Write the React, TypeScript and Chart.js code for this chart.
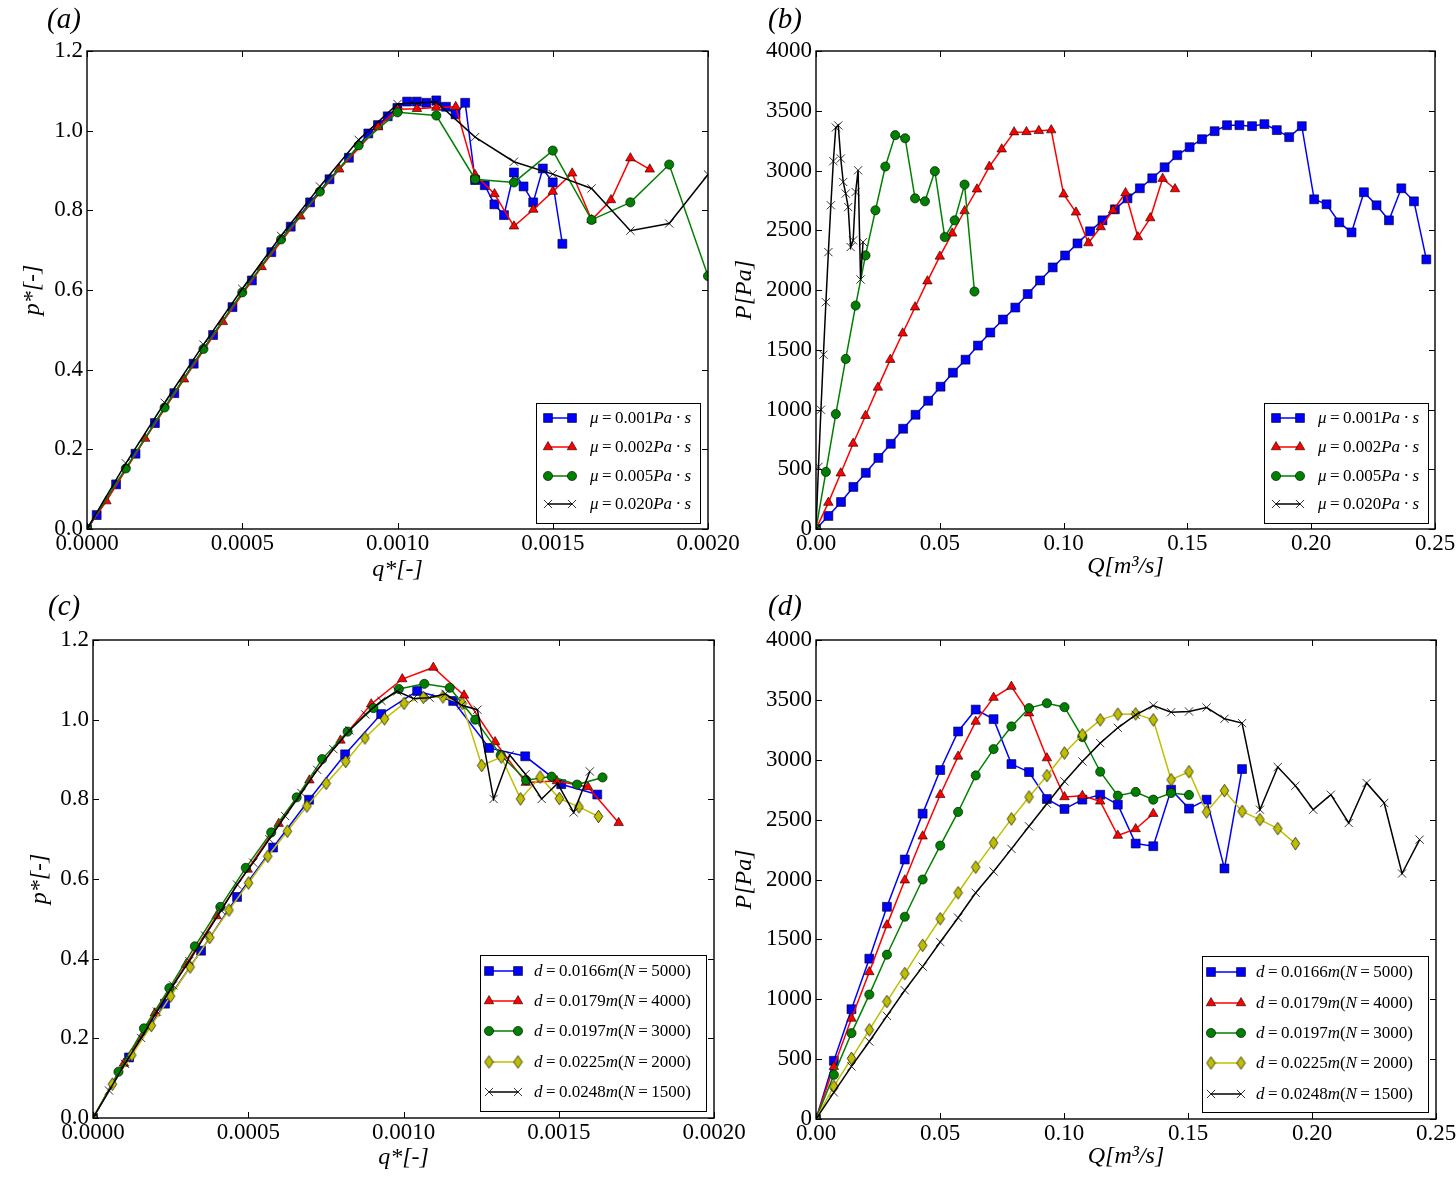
import React, { useEffect, useRef } from 'react';
import { Chart, registerables } from 'chart.js';
import { drawPoint } from 'chart.js/helpers';

Chart.register(...registerables);

const SERIF = "'Liberation Serif', 'Times New Roman', serif";

// ---------- (a) normalised pressure p* vs normalised flow q*, by viscosity ----------
const aQ_mu001 = [0, 0.0000312, 0.0000937, 0.0001562, 0.0002187, 0.0002812, 0.0003436, 0.0004061, 0.0004686, 0.0005311, 0.0005936, 0.0006561, 0.0007185, 0.000781, 0.0008435, 0.000906, 0.0009372, 0.0009685, 0.0009997, 0.001031, 0.001062, 0.001093, 0.001125, 0.001156, 0.001187, 0.001218, 0.00125, 0.001281, 0.001312, 0.001343, 0.001375, 0.001406, 0.001437, 0.001468, 0.0015, 0.001531];
const aP_mu001 = [0, 0.035, 0.112, 0.189, 0.266, 0.341, 0.415, 0.487, 0.557, 0.624, 0.695, 0.759, 0.82, 0.878, 0.932, 0.993, 1.014, 1.036, 1.057, 1.073, 1.073, 1.07, 1.076, 1.06, 1.041, 1.07, 0.876, 0.863, 0.815, 0.788, 0.895, 0.86, 0.82, 0.905, 0.87, 0.716];
const aQ_mu002 = [0, 0.0000625, 0.0001875, 0.0003125, 0.0004375, 0.0005625, 0.0006875, 0.0008125, 0.0009375, 0.001, 0.0010625, 0.001125, 0.0011875, 0.00125, 0.0013125, 0.001375, 0.0014375, 0.0015, 0.0015625, 0.001625, 0.0016875, 0.00175, 0.0018125];
const aP_mu002 = [0, 0.07, 0.227, 0.376, 0.52, 0.658, 0.785, 0.903, 1.009, 1.054, 1.055, 1.058, 1.06, 0.889, 0.841, 0.76, 0.802, 0.847, 0.893, 0.776, 0.826, 0.931, 0.903];
const aQ_mu005 = [0, 0.000125, 0.00025, 0.000375, 0.0005, 0.000625, 0.00075, 0.000875, 0.001, 0.001125, 0.00125, 0.001375, 0.0015, 0.001625, 0.00175, 0.001875, 0.002];
const aP_mu005 = [0, 0.152, 0.305, 0.452, 0.594, 0.727, 0.847, 0.963, 1.046, 1.038, 0.878, 0.87, 0.95, 0.776, 0.82, 0.915, 0.635];
const aQ_mu020 = [0, 0.000125, 0.00025, 0.000375, 0.0005, 0.000625, 0.00075, 0.000875, 0.001, 0.001125, 0.00125, 0.001375, 0.0015, 0.001625, 0.00175, 0.001875, 0.002];
const aP_mu020 = [0, 0.165, 0.317, 0.463, 0.603, 0.736, 0.86, 0.977, 1.067, 1.072, 0.984, 0.922, 0.891, 0.855, 0.749, 0.767, 0.89];

// ---------- (b) pressure P [Pa] vs flow rate Q [m3/s], by viscosity ----------
const bQ_mu001 = [0, 0.005, 0.0101, 0.0151, 0.0201, 0.0252, 0.0302, 0.0352, 0.0402, 0.0453, 0.0503, 0.0553, 0.0604, 0.0654, 0.0704, 0.0755, 0.0805, 0.0855, 0.0905, 0.0956, 0.1006, 0.1056, 0.1107, 0.1157, 0.1207, 0.1258, 0.1308, 0.1358, 0.1408, 0.1459, 0.1509, 0.1559, 0.161, 0.166, 0.171, 0.1761, 0.1811, 0.1861, 0.1911, 0.1962, 0.2012, 0.2062, 0.2113, 0.2163, 0.2213, 0.2264, 0.2314, 0.2364, 0.2415, 0.2465];
const bP_mu001 = [0, 109, 226, 352, 470, 595, 713, 839, 956, 1073, 1191, 1308, 1417, 1535, 1644, 1753, 1853, 1966, 2080, 2189, 2289, 2390, 2491, 2583, 2675, 2767, 2851, 2935, 3027, 3128, 3195, 3262, 3329, 3379, 3379, 3371, 3388, 3338, 3279, 3371, 2759, 2717, 2566, 2482, 2818, 2709, 2583, 2851, 2742, 2256];
const bQ_mu002 = [0, 0.005, 0.01, 0.015, 0.02, 0.025, 0.03, 0.035, 0.04, 0.045, 0.05, 0.055, 0.06, 0.065, 0.07, 0.075, 0.08, 0.085, 0.09, 0.095, 0.1, 0.105, 0.11, 0.115, 0.12, 0.125, 0.13, 0.135, 0.14, 0.145];
const bP_mu002 = [0, 221, 467, 715, 948, 1185, 1417, 1638, 1856, 2074, 2281, 2474, 2661, 2843, 3033, 3178, 3321, 3323, 3332, 3338, 2801, 2650, 2393, 2527, 2667, 2812, 2443, 2602, 2932, 2845];
const bQ_mu005 = [0, 0.004, 0.008, 0.012, 0.016, 0.02, 0.024, 0.028, 0.032, 0.036, 0.04, 0.044, 0.048, 0.052, 0.056, 0.06, 0.064];
const bP_mu005 = [0, 478, 962, 1423, 1870, 2289, 2667, 3033, 3296, 3270, 2767, 2742, 2994, 2443, 2583, 2882, 1987];
const bQ_mu020 = [0, 0.001, 0.002, 0.003, 0.004, 0.005, 0.006, 0.007, 0.008, 0.009, 0.01, 0.011, 0.012, 0.013, 0.014, 0.015, 0.016, 0.017, 0.018, 0.019];
const bP_mu020 = [0, 520, 998, 1459, 1898, 2317, 2709, 3078, 3360, 3377, 3100, 2904, 2807, 2694, 2359, 2415, 2820, 3002, 2088, 2401];

// ---------- (c) normalised curves, by particle diameter ----------
const cQ_d0166 = [0, 0.000116, 0.000232, 0.000348, 0.000464, 0.00058, 0.000696, 0.000812, 0.000928, 0.001044, 0.00116, 0.001276, 0.001392, 0.001508, 0.001624];
const cP_d0166 = [0, 0.152, 0.287, 0.42, 0.555, 0.679, 0.799, 0.913, 1.014, 1.072, 1.047, 0.929, 0.908, 0.838, 0.812];
const cQ_d0179 = [0, 0.0000996, 0.000199, 0.000299, 0.000398, 0.000498, 0.000598, 0.000697, 0.000797, 0.000896, 0.000996, 0.001096, 0.001195, 0.001295, 0.001394, 0.001494, 0.001594, 0.001693];
const cP_d0179 = [0, 0.137, 0.263, 0.385, 0.507, 0.624, 0.739, 0.848, 0.948, 1.039, 1.102, 1.131, 1.061, 0.944, 0.842, 0.846, 0.831, 0.741];
const cQ_d0197 = [0, 0.000082, 0.000164, 0.000246, 0.000328, 0.00041, 0.000492, 0.000574, 0.000656, 0.000738, 0.00082, 0.000903, 0.000985, 0.001067, 0.001149, 0.001231, 0.001313, 0.001395, 0.001477, 0.001559, 0.001641];
const cP_d0197 = [0, 0.116, 0.225, 0.326, 0.431, 0.53, 0.628, 0.717, 0.805, 0.901, 0.97, 1.029, 1.077, 1.09, 1.08, 1.0, 0.911, 0.848, 0.857, 0.837, 0.855];
const cQ_d0225 = [0, 0.0000626, 0.000125, 0.000188, 0.00025, 0.000313, 0.000376, 0.000438, 0.000501, 0.000563, 0.000626, 0.000689, 0.000751, 0.000814, 0.000876, 0.000939, 0.001002, 0.001064, 0.001127, 0.001189, 0.001252, 0.001315, 0.001377, 0.00144, 0.001502, 0.001565, 0.001628];
const cP_d0225 = [0, 0.085, 0.158, 0.232, 0.306, 0.379, 0.453, 0.522, 0.59, 0.657, 0.72, 0.783, 0.84, 0.895, 0.954, 1.002, 1.041, 1.056, 1.057, 1.041, 0.885, 0.906, 0.801, 0.856, 0.802, 0.781, 0.757];
const cQ_d0248 = [0, 0.0000516, 0.000103, 0.000155, 0.000206, 0.000258, 0.00031, 0.000361, 0.000413, 0.000464, 0.000516, 0.000568, 0.000619, 0.000671, 0.000722, 0.000774, 0.000826, 0.000877, 0.000929, 0.00098, 0.001032, 0.001084, 0.001135, 0.001187, 0.001238, 0.00129, 0.001342, 0.001393, 0.001445, 0.001496, 0.001548, 0.0016];
const cP_d0248 = [0, 0.069, 0.136, 0.201, 0.267, 0.333, 0.394, 0.458, 0.521, 0.586, 0.641, 0.7, 0.758, 0.816, 0.874, 0.926, 0.973, 1.013, 1.047, 1.071, 1.053, 1.055, 1.065, 1.036, 1.025, 0.801, 0.911, 0.863, 0.801, 0.84, 0.767, 0.87];

// ---------- (d) pressure vs flow rate, by particle diameter ----------
const dQ = [0, 0.0072, 0.0143, 0.0215, 0.0286, 0.0358, 0.043, 0.0501, 0.0573, 0.0644, 0.0716, 0.0788, 0.0859, 0.0931, 0.1002, 0.1074, 0.1146, 0.1217, 0.1289, 0.136, 0.1432, 0.1504, 0.1575, 0.1647, 0.1718, 0.179, 0.1862, 0.1933, 0.2005, 0.2076, 0.2148, 0.222, 0.2291, 0.2363, 0.2434];
const dP_d0166 = [0, 486, 917, 1339, 1772, 2167, 2550, 2914, 3236, 3419, 3339, 2964, 2897, 2672, 2589, 2667, 2708, 2625, 2300, 2278, 2750, 2592, 2667, 2092, 2922];
const dP_d0179 = [0, 436, 839, 1228, 1619, 1994, 2361, 2708, 3028, 3319, 3519, 3611, 3389, 3014, 2689, 2700, 2653, 2367, 2422, 2550];
const dP_d0197 = [0, 369, 717, 1039, 1372, 1689, 2000, 2283, 2564, 2869, 3089, 3278, 3431, 3472, 3439, 3190, 2900, 2700, 2731, 2667, 2722, 2706];
const dP_d0225 = [0, 272, 506, 744, 981, 1214, 1450, 1672, 1889, 2103, 2306, 2506, 2689, 2867, 3056, 3208, 3333, 3381, 3383, 3333, 2833, 2900, 2564, 2742, 2569, 2500, 2425, 2300];
const dP_d0248 = [0, 222, 439, 647, 861, 1075, 1272, 1478, 1681, 1889, 2067, 2256, 2444, 2633, 2819, 2986, 3139, 3267, 3375, 3453, 3397, 3403, 3436, 3342, 3306, 2583, 2939, 2783, 2583, 2708, 2472, 2806, 2639, 2050, 2333];

// ---------- legend labels ----------
type Seg = [string, boolean]; // text, italic
const TS = '\u2009'; // thin space used for math-style spacing
const muLabel = (v: string): Seg[] => [['μ', true], [TS + '=' + TS, false], [v, false], ['Pa', true], [TS + '·' + TS, false], ['s', true]];
const dLabel = (d: string, n: string): Seg[] => [['d', true], [TS + '=' + TS, false], [d, false], ['m', true], ['(', false], ['N', true], [TS + '=' + TS, false], [n, false], [')', false]];

const muValues = ['0.001', '0.002', '0.005', '0.020'];
const diameters = ['0.0166', '0.0179', '0.0197', '0.0225', '0.0248'];
const particleCounts = ['5000', '4000', '3000', '2000', '1500'];

// ---------- styling ----------
const BLUE = '#0000ff';
const RED = '#ff0000';
const GREEN = '#008000';
const OLIVE = '#bfbf00';
const BLACK = '#000000';

function makeDiamond(): HTMLCanvasElement {
  const c = document.createElement('canvas');
  c.width = 11;
  c.height = 15;
  const g = c.getContext('2d')!;
  g.beginPath();
  g.moveTo(5.5, 1.2);
  g.lineTo(9.8, 7.5);
  g.lineTo(5.5, 13.8);
  g.lineTo(1.2, 7.5);
  g.closePath();
  g.fillStyle = OLIVE;
  g.fill();
  g.lineWidth = 0.7;
  g.strokeStyle = '#000';
  g.stroke();
  return c;
}

type MarkerKind = 'square' | 'triangle' | 'circle' | 'diamond' | 'cross';
type MarkerDef = { style: any; r: number; bw: number };
let markerCache: Record<MarkerKind, MarkerDef> | null = null;
function markers(): Record<MarkerKind, MarkerDef> {
  if (!markerCache) {
    markerCache = {
      square: { style: 'rect', r: 6.3, bw: 0.6 },
      triangle: { style: 'triangle', r: 5.5, bw: 0.6 },
      circle: { style: 'circle', r: 4.6, bw: 0.6 },
      diamond: { style: makeDiamond(), r: 6, bw: 0.6 },
      cross: { style: 'crossRot', r: 5.8, bw: 0.8 },
    };
  }
  return markerCache;
}

type Series = { label: Seg[]; xs: number[]; ys: number[]; color: string; marker: MarkerKind };
type Rect = { left: number; top: number; right: number; bottom: number };
type Panel = {
  tag: string;
  tagPos: [number, number];
  canvas: { left: number; top: number; width: number; height: number };
  area: Rect;
  x: { min: number; max: number; step: number; digits: number; title: string; titleY: number };
  y: { min: number; max: number; step: number; digits: number; title: string; titleX: number };
  legend: Rect & { rows: number[]; sample: [number, number]; textX: number };
  series: Series[];
};

const PANELS: Panel[] = [
  {
    tag: '(a)',
    tagPos: [47, 20],
    canvas: { left: 0, top: 0, width: 760, height: 590 },
    area: { left: 87, top: 51, right: 708, bottom: 529 },
    x: { min: 0, max: 0.002, step: 0.0005, digits: 4, title: 'q*[-]', titleY: 570 },
    y: { min: 0, max: 1.2, step: 0.2, digits: 1, title: 'p*[-]', titleX: 33 },
    legend: { left: 536, top: 403, right: 700, bottom: 523, rows: [418, 447, 476, 504], sample: [548, 572], textX: 590 },
    series: [
      { label: muLabel(muValues[0]), xs: aQ_mu001, ys: aP_mu001, color: BLUE, marker: 'square' },
      { label: muLabel(muValues[1]), xs: aQ_mu002, ys: aP_mu002, color: RED, marker: 'triangle' },
      { label: muLabel(muValues[2]), xs: aQ_mu005, ys: aP_mu005, color: GREEN, marker: 'circle' },
      { label: muLabel(muValues[3]), xs: aQ_mu020, ys: aP_mu020, color: BLACK, marker: 'cross' },
    ],
  },
  {
    tag: '(b)',
    tagPos: [768, 20],
    canvas: { left: 730, top: 0, width: 726, height: 590 },
    area: { left: 816, top: 51, right: 1435, bottom: 529 },
    x: { min: 0, max: 0.25, step: 0.05, digits: 2, title: 'Q[m³/s]', titleY: 567 },
    y: { min: 0, max: 4000, step: 500, digits: 0, title: 'P[Pa]', titleX: 745 },
    legend: { left: 1264, top: 403, right: 1428, bottom: 523, rows: [418, 447, 476, 504], sample: [1276, 1300], textX: 1318 },
    series: [
      { label: muLabel(muValues[0]), xs: bQ_mu001, ys: bP_mu001, color: BLUE, marker: 'square' },
      { label: muLabel(muValues[1]), xs: bQ_mu002, ys: bP_mu002, color: RED, marker: 'triangle' },
      { label: muLabel(muValues[2]), xs: bQ_mu005, ys: bP_mu005, color: GREEN, marker: 'circle' },
      { label: muLabel(muValues[3]), xs: bQ_mu020, ys: bP_mu020, color: BLACK, marker: 'cross' },
    ],
  },
  {
    tag: '(c)',
    tagPos: [48, 607],
    canvas: { left: 0, top: 590, width: 760, height: 587 },
    area: { left: 93, top: 640, right: 714, bottom: 1118 },
    x: { min: 0, max: 0.002, step: 0.0005, digits: 4, title: 'q*[-]', titleY: 1158 },
    y: { min: 0, max: 1.2, step: 0.2, digits: 1, title: 'p*[-]', titleX: 40 },
    legend: { left: 480, top: 955, right: 706, bottom: 1111, rows: [971, 1001, 1031, 1062, 1092], sample: [489, 518], textX: 534 },
    series: [
      { label: dLabel(diameters[0], particleCounts[0]), xs: cQ_d0166, ys: cP_d0166, color: BLUE, marker: 'square' },
      { label: dLabel(diameters[1], particleCounts[1]), xs: cQ_d0179, ys: cP_d0179, color: RED, marker: 'triangle' },
      { label: dLabel(diameters[2], particleCounts[2]), xs: cQ_d0197, ys: cP_d0197, color: GREEN, marker: 'circle' },
      { label: dLabel(diameters[3], particleCounts[3]), xs: cQ_d0225, ys: cP_d0225, color: OLIVE, marker: 'diamond' },
      { label: dLabel(diameters[4], particleCounts[4]), xs: cQ_d0248, ys: cP_d0248, color: BLACK, marker: 'cross' },
    ],
  },
  {
    tag: '(d)',
    tagPos: [768, 607],
    canvas: { left: 730, top: 590, width: 726, height: 587 },
    area: { left: 816, top: 640, right: 1436, bottom: 1119 },
    x: { min: 0, max: 0.25, step: 0.05, digits: 2, title: 'Q[m³/s]', titleY: 1157 },
    y: { min: 0, max: 4000, step: 500, digits: 0, title: 'P[Pa]', titleX: 745 },
    legend: { left: 1202, top: 956, right: 1428, bottom: 1112, rows: [972, 1003, 1033, 1063, 1094], sample: [1211, 1241], textX: 1256 },
    series: [
      { label: dLabel(diameters[0], particleCounts[0]), xs: dQ, ys: dP_d0166, color: BLUE, marker: 'square' },
      { label: dLabel(diameters[1], particleCounts[1]), xs: dQ, ys: dP_d0179, color: RED, marker: 'triangle' },
      { label: dLabel(diameters[2], particleCounts[2]), xs: dQ, ys: dP_d0197, color: GREEN, marker: 'circle' },
      { label: dLabel(diameters[3], particleCounts[3]), xs: dQ, ys: dP_d0225, color: OLIVE, marker: 'diamond' },
      { label: dLabel(diameters[4], particleCounts[4]), xs: dQ, ys: dP_d0248, color: BLACK, marker: 'cross' },
    ],
  },
];

function drawRich(ctx: CanvasRenderingContext2D, x: number, y: number, segs: Seg[], size: number) {
  let cx = x;
  ctx.textBaseline = 'middle';
  ctx.textAlign = 'left';
  ctx.fillStyle = '#000';
  for (const [t, italic] of segs) {
    ctx.font = `${italic ? 'italic ' : ''}${size}px ${SERIF}`;
    ctx.fillText(t, cx, y);
    cx += ctx.measureText(t).width;
  }
}

function paintMarker(ctx: CanvasRenderingContext2D, s: Series, x: number, y: number) {
  const m = markers()[s.marker];
  ctx.save();
  ctx.fillStyle = s.color;
  ctx.strokeStyle = '#000';
  ctx.lineWidth = m.bw;
  drawPoint(ctx, { pointStyle: m.style, rotation: 0, radius: m.r, borderWidth: m.bw } as any, x, y);
  ctx.restore();
}

// box, inward ticks on all four sides
const framePlugin = {
  id: 'frame',
  afterDatasetsDraw(chart: any) {
    const { ctx, chartArea: a, scales } = chart;
    const tl = 6;
    ctx.save();
    ctx.strokeStyle = '#000';
    ctx.lineWidth = 1;
    ctx.beginPath();
    for (const t of scales.x.ticks) {
      const px = Math.round(scales.x.getPixelForValue(t.value)) + 0.5;
      ctx.moveTo(px, a.bottom);
      ctx.lineTo(px, a.bottom - tl);
      ctx.moveTo(px, a.top);
      ctx.lineTo(px, a.top + tl);
    }
    for (const t of scales.y.ticks) {
      const py = Math.round(scales.y.getPixelForValue(t.value)) + 0.5;
      ctx.moveTo(a.left, py);
      ctx.lineTo(a.left + tl, py);
      ctx.moveTo(a.right, py);
      ctx.lineTo(a.right - tl, py);
    }
    ctx.stroke();
    ctx.lineWidth = 1.4;
    ctx.strokeRect(a.left, a.top, a.right - a.left, a.bottom - a.top);
    ctx.restore();
  },
};

function annotationPlugin(p: Panel) {
  return {
    id: 'annotations',
    afterDraw(chart: any) {
      const ctx: CanvasRenderingContext2D = chart.ctx;
      const ox = p.canvas.left;
      const oy = p.canvas.top;
      const lg = p.legend;
      ctx.save();
      // legend frame
      ctx.fillStyle = '#fff';
      ctx.fillRect(lg.left - ox, lg.top - oy, lg.right - lg.left, lg.bottom - lg.top);
      ctx.strokeStyle = '#000';
      ctx.lineWidth = 1;
      ctx.strokeRect(lg.left - ox + 0.5, lg.top - oy + 0.5, lg.right - lg.left, lg.bottom - lg.top);
      p.series.forEach((s, i) => {
        const y = lg.rows[i] - oy;
        const x1 = lg.sample[0] - ox;
        const x2 = lg.sample[1] - ox;
        ctx.strokeStyle = s.color;
        ctx.lineWidth = 1.5;
        ctx.beginPath();
        ctx.moveTo(x1, y);
        ctx.lineTo(x2, y);
        ctx.stroke();
        paintMarker(ctx, s, x1, y);
        paintMarker(ctx, s, x2, y);
        drawRich(ctx, lg.textX - ox, y + 1, s.label, 17);
      });
      // panel tag
      ctx.font = `italic 29px ${SERIF}`;
      ctx.fillStyle = '#000';
      ctx.textAlign = 'left';
      ctx.textBaseline = 'middle';
      ctx.fillText(p.tag, p.tagPos[0] - ox, p.tagPos[1] - oy);
      ctx.restore();
    },
  };
}

function makeConfig(p: Panel): any {
  const mk = markers();
  const c = p.canvas;
  const a = p.area;
  const xAxisH = c.top + c.height - a.bottom;
  const yAxisW = a.left - c.left;
  const tickFont = { family: SERIF, size: 23, lineHeight: 1 };
  const titleFont = { family: SERIF, size: 24, style: 'italic', lineHeight: 1 };
  const datasets = p.series.map((s, i) => {
    const m = mk[s.marker];
    return {
      data: s.ys.map((y, j) => ({ x: s.xs[j], y })),
      showLine: true,
      borderColor: s.color,
      borderWidth: 1.5,
      backgroundColor: s.color,
      pointBackgroundColor: s.color,
      pointBorderColor: '#000',
      pointBorderWidth: m.bw,
      pointRadius: m.r,
      pointHoverRadius: m.r,
      pointStyle: m.style,
      clip: 0,
      order: -i,
    };
  });
  return {
    type: 'scatter',
    data: { datasets },
    options: {
      responsive: false,
      maintainAspectRatio: false,
      animation: false,
      events: [],
      layout: { padding: { left: 0, top: a.top - c.top, right: c.left + c.width - a.right, bottom: 0 } },
      plugins: { legend: { display: false }, tooltip: { enabled: false }, title: { display: false } },
      scales: {
        x: {
          type: 'linear',
          min: p.x.min,
          max: p.x.max,
          grid: { display: false, drawTicks: false },
          border: { display: false },
          ticks: {
            stepSize: p.x.step,
            autoSkip: false,
            maxRotation: 0,
            minRotation: 0,
            padding: 3,
            color: '#000',
            font: tickFont,
            callback: (v: any) => Number(v).toFixed(p.x.digits),
          },
          title: {
            display: true,
            text: p.x.title,
            color: '#000',
            font: titleFont,
            padding: { top: 0, bottom: c.top + c.height - p.x.titleY - 12 },
          },
          afterFit: (s: any) => {
            s.height = xAxisH;
            s.paddingLeft = 0;
            s.paddingRight = 0;
          },
        },
        y: {
          type: 'linear',
          min: p.y.min,
          max: p.y.max,
          grid: { display: false, drawTicks: false },
          border: { display: false },
          ticks: {
            stepSize: p.y.step,
            autoSkip: false,
            padding: 4,
            color: '#000',
            font: tickFont,
            callback: (v: any) => Number(v).toFixed(p.y.digits),
          },
          title: {
            display: true,
            text: p.y.title,
            color: '#000',
            font: titleFont,
            padding: { top: p.y.titleX - c.left - 12, bottom: 0 },
          },
          afterFit: (s: any) => {
            s.width = yAxisW;
            s.paddingTop = 0;
            s.paddingBottom = 0;
          },
        },
      },
    },
    plugins: [framePlugin, annotationPlugin(p)],
  };
}

export default function App() {
  const refs = useRef<(HTMLCanvasElement | null)[]>([]);

  useEffect(() => {
    const charts = PANELS.map((p, i) => new Chart(refs.current[i] as HTMLCanvasElement, makeConfig(p)));
    return () => charts.forEach((ch) => ch.destroy());
  }, []);

  return (
    <div style={{ position: 'absolute', left: 0, top: 0, width: 1456, height: 1177, background: '#fff', overflow: 'hidden' }}>
      {PANELS.map((p, i) => (
        <canvas
          key={p.tag}
          ref={(el) => {
            refs.current[i] = el;
          }}
          width={p.canvas.width}
          height={p.canvas.height}
          style={{ position: 'absolute', left: p.canvas.left, top: p.canvas.top, width: p.canvas.width, height: p.canvas.height }}
        />
      ))}
    </div>
  );
}
